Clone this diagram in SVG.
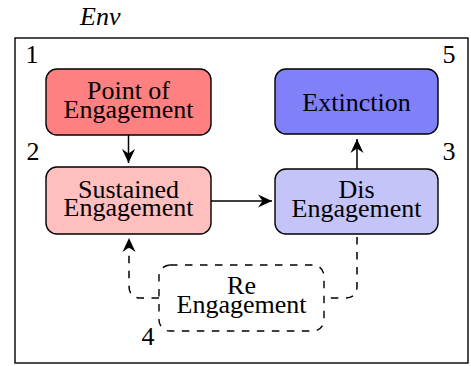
<svg xmlns="http://www.w3.org/2000/svg" width="471" height="366" viewBox="0 0 471 366">
<defs>
<style>
text{font-family:"Liberation Serif","Times New Roman",serif;font-size:26px;fill:#000;text-anchor:middle}
.box{stroke:#000;stroke-width:1.4}
.edge{fill:none;stroke:#000;stroke-width:1.5}
.dash{stroke-dasharray:7.5 7.5}
</style>
<marker id="arr" viewBox="-15 -8 16 16" refX="0" refY="0" markerWidth="16" markerHeight="16" markerUnits="userSpaceOnUse" orient="auto">
<path d="M0,0 L-14,-6.5 L-9.5,0 L-14,6.5 Z" fill="#000"/>
</marker>
</defs>
<rect width="471" height="366" fill="#fff"/>
<text x="80" y="25" style="font-style:italic;text-anchor:start">Env</text>
<rect id="env" x="15" y="38" width="453" height="325" fill="none" stroke="#000" stroke-width="1.4"/>
<g id="labels">
<text x="32" y="63">1</text>
<text x="449" y="63">5</text>
<text x="33" y="160">2</text>
<text x="449" y="160">3</text>
<text x="148" y="345">4</text>
</g>
<g id="connectors">
<line class="edge" x1="128.5" y1="135" x2="128.5" y2="163" marker-end="url(#arr)"/>
<line class="edge" x1="211" y1="201" x2="272" y2="201" marker-end="url(#arr)"/>
<line class="edge" x1="357" y1="169" x2="357" y2="139" marker-end="url(#arr)"/>
<path class="edge dash" d="M357,237 L357,286 Q357,298 345,298 L324,298"/>
<path class="edge dash" d="M159,298 L141,298 Q129,298 129,286 L129,238" marker-end="url(#arr)"/>
</g>
<g id="point-of-engagement">
<rect class="box" x="46" y="69" width="165" height="66" rx="11" fill="#ff8080"/>
<text x="128.5" y="99">Point of<tspan x="128.5" y="117.5">Engagement</tspan></text>
</g>
<g id="extinction">
<rect class="box" x="275" y="69" width="163" height="65" rx="11" fill="#8080f8"/>
<text x="356.5" y="111">Extinction</text>
</g>
<g id="sustained-engagement">
<rect class="box" x="46" y="167" width="165" height="67" rx="11" fill="#ffbfbf"/>
<text x="128.5" y="198">Sustained<tspan x="128.5" y="216">Engagement</tspan></text>
</g>
<g id="dis-engagement">
<rect class="box" x="275" y="169" width="163" height="65" rx="11" fill="#c4c4f8"/>
<text x="356.5" y="198">Dis<tspan x="356.5" y="216.5">Engagement</tspan></text>
</g>
<g id="re-engagement">
<rect class="box dash" x="159" y="265" width="165" height="66" rx="11" fill="none"/>
<text x="241.5" y="294">Re<tspan x="241.5" y="312.5">Engagement</tspan></text>
</g>
</svg>
